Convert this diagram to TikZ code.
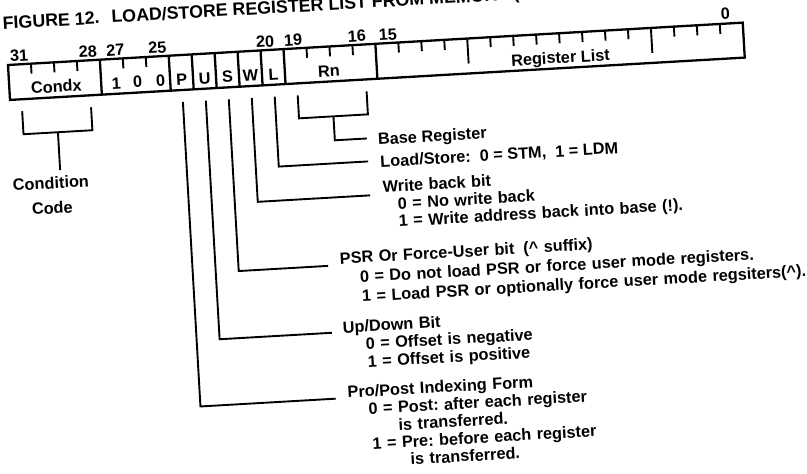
\documentclass[tikz,border=0pt]{standalone}
\usepackage{fontspec}
\setmainfont{Liberation Sans}
\frenchspacing
\begin{document}
\tikzset{
  txt/.style={font=\bfseries\fontsize{16.3}{17.5}\selectfont, inner sep=0pt, anchor=base west},
  blk/.style={txt, text width=#1, align=left},
  ctxt/.style={font=\bfseries\fontsize{16.3}{18}\selectfont, inner sep=0pt, anchor=base},
  ttl/.style={font=\bfseries\fontsize{17.8}{19}\selectfont, inner sep=0pt, anchor=base west},
  regbox/.style={line width=2.3pt, line join=miter},
  tickline/.style={line width=1.9pt},
  leader/.style={line width=1.9pt, line join=miter},
}
\begin{tikzpicture}[x=1pt,y=1pt]
\useasboundingbox (0,0) rectangle (807,474);
\fill[white] (0,0) rectangle (807,474);
\clip (0,0) rectangle (807,474);
\begin{scope}[shift={(8,409)}, rotate=3.3, transform shape]
  % title
  \node[ttl] (title) at (-3,36) {FIGURE 12.\hspace{12pt}LOAD/STORE REGISTER LIST FROM MEMORY (};
  % bit numbers
  \node[ctxt] (n31) at (11.5,3) {31};
  \node[ctxt] (n28) at (80.5,3) {28};
  \node[ctxt] (n27) at (108,3) {27};
  \node[ctxt] (n25) at (150,3) {25};
  \node[ctxt] (n20) at (258,3) {20};
  \node[ctxt] (n19) at (286,3) {19};
  \node[ctxt] (n16) at (350,3) {16};
  \node[ctxt] (n15) at (381,3) {15};
  \node[ctxt] (n0)  at (719,4) {0};
  % register box
  \draw[regbox] (0,0) rectangle (736,-35);
  \foreach \u in {92,161,184,207,230,253,276,368}
    \draw[regbox] (\u,0) -- (\u,-35);
  \foreach \u in {23,46,69,115,138,299,322,345,391,414,437,483,506,529,552,575,598,621,667,690,713}
    \draw[tickline] (\u,0) -- (\u,-10);
  \foreach \u in {460,644}
    \draw[tickline] (\u,0) -- (\u,-25);
  % field labels
  \node[ctxt] (fcond) at (47,-30) {Condx};
  \node[ctxt] (f27) at (107,-30) {1};
  \node[ctxt] (f26) at (128.5,-30) {0};
  \node[ctxt] (f25) at (151.5,-30) {0};
  \node[ctxt] (fP) at (172.5,-30) {P};
  \node[ctxt] (fU) at (195.5,-30) {U};
  \node[ctxt] (fS) at (218.5,-30) {S};
  \node[ctxt] (fW) at (241.5,-30) {W};
  \node[ctxt] (fL) at (264.5,-30) {L};
  \node[ctxt] (fRn) at (320,-30) {Rn};
  \node[ctxt] (fRL) at (552,-30) {Register List};
  % leader coordinates
  \coordinate (c31) at (11.5,-47);
  \coordinate (c31b) at (11.5,-70);
  \coordinate (c28) at (80.5,-47);
  \coordinate (c28b) at (80.5,-70);
  \coordinate (cmid) at (46,-70);
  \coordinate (cend) at (46,-108);
  \coordinate (r19) at (287.5,-47);
  \coordinate (r19b) at (287.5,-70);
  \coordinate (r16) at (356.5,-47);
  \coordinate (r16b) at (356.5,-70);
  \coordinate (rmid) at (322,-70);
  \coordinate (rk) at (322,-94);
  \coordinate (re) at (354,-94);
  \coordinate (bL) at (264.5,-47);
  \coordinate (kL) at (264.5,-117);
  \coordinate (eL) at (354,-117);
  \coordinate (bW) at (241.5,-47);
  \coordinate (kW) at (241.5,-151);
  \coordinate (eW) at (354,-151);
  \coordinate (bS) at (218.5,-47);
  \coordinate (kS) at (218.5,-219);
  \coordinate (eS) at (308,-219);
  \coordinate (bU) at (195.5,-47);
  \coordinate (kU) at (195.5,-286);
  \coordinate (eU) at (308,-286);
  \coordinate (bP) at (172.5,-47);
  \coordinate (kP) at (172.5,-352);
  \coordinate (eP) at (308,-352);
  % leaders
  \draw[leader] (c31) -- (c31b) -- (c28b) -- (c28);
  \draw[leader] (cmid) -- (cend);
  \draw[leader] (r19) -- (r19b) -- (r16b) -- (r16);
  \draw[leader] (rmid) -- (rk) -- (re);
  \draw[leader] (bL) -- (kL) -- (eL);
  \draw[leader] (bW) -- (kW) -- (eW);
  \draw[leader] (bS) -- (kS) -- (eS);
  \draw[leader] (bU) -- (kU) -- (eU);
  \draw[leader] (bP) -- (kP) -- (eP);
  % texts
  \node[ctxt, text width=90pt, align=center, font=\bfseries\fontsize{16.3}{25}\selectfont] (tcc) at (36,-126) {Condition\\Code};
  \node[txt] (tbase) at (365,-101) {Base Register};
  \node[txt] (tload) at (366,-123.5) {Load/Store:\hspace{9pt}0 = STM,\hspace{9pt}1 = LDM};
  \node[blk=320pt] (twb) at (367,-149) {Write back bit\\
    \hspace*{14pt}0 = No write back\\
    \hspace*{14pt}1 = Write address back into base (!).};
  \node[blk=470pt, font=\bfseries\fontsize{16.3}{19.5}\selectfont] (tpsr) at (320,-218) {PSR Or Force-User bit\hspace{9pt}(\textasciicircum{} suffix)\\
    \hspace*{19pt}0 = Do not load PSR or force user mode registers.\\
    \hspace*{20pt}1 = Load PSR or optionally force user mode regsiters(\textasciicircum).};
  \node[blk=240pt, font=\bfseries\fontsize{16.3}{17.8}\selectfont] (tud) at (319,-287) {Up/Down Bit\\
    \hspace*{22pt}0 = Offset is negative\\
    \hspace*{23pt}1 = Offset is positive};
  \node[blk=300pt, font=\bfseries\fontsize{16.3}{17.6}\selectfont] (tpp) at (320,-352) {Pro/Post Indexing Form\\
    \hspace*{20pt}0 = Post: after each register\\
    \hspace*{49pt}is transferred.\\
    \hspace*{22pt}1 = Pre: before each register\\
    \hspace*{59pt}is transferred.};
\end{scope}
\end{tikzpicture}
\end{document}
